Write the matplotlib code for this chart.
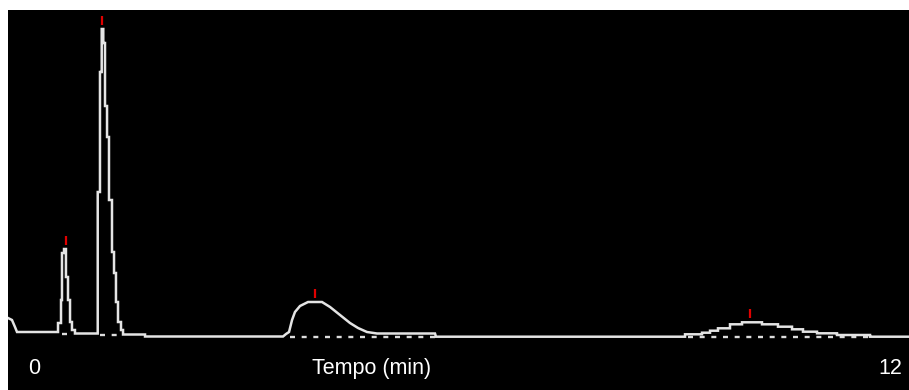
import matplotlib
matplotlib.use("Agg")
import matplotlib.pyplot as plt

plt.rcParams["font.family"] = ["Liberation Sans", "DejaVu Sans"]
plt.rcParams["lines.scale_dashes"] = False

# Detector trace: time (min) and signal (mAU above baseline)
trace_time = [
    0.000, 0.053, 0.093, 0.120, 0.666, 0.666, 0.706, 0.706, 0.719, 0.719,
    0.746, 0.746, 0.772, 0.772, 0.799, 0.799, 0.826, 0.826, 0.852, 0.852,
    0.892, 0.892, 1.195, 1.195, 1.225, 1.225, 1.248, 1.248, 1.269, 1.269,
    1.292, 1.292, 1.319, 1.319, 1.345, 1.345, 1.385, 1.385, 1.412, 1.412,
    1.438, 1.438, 1.465, 1.465, 1.505, 1.505, 1.532, 1.532, 1.825, 1.825,
    3.663, 3.703, 3.743, 3.783, 3.822, 3.889, 3.996, 4.182, 4.289, 4.422,
    4.555, 4.662, 4.781, 4.915, 5.687, 5.700, 9.017, 9.017, 9.243, 9.243,
    9.350, 9.350, 9.456, 9.456, 9.616, 9.616, 9.776, 9.776, 10.042, 10.042,
    10.255, 10.255, 10.442, 10.442, 10.588, 10.588, 10.775, 10.775, 11.041,
    11.041, 11.481, 11.481, 12.000,
]
trace_signal = [
    19, 17, 10, 5, 5, 14, 14, 37, 37, 84,
    84, 88, 88, 60, 60, 37, 37, 15, 15, 7,
    7, 3.5, 3.5, 145, 145, 265, 265, 308, 308, 294,
    294, 231, 231, 200, 200, 137, 137, 85, 85, 64,
    64, 35, 35, 15, 15, 7, 7, 2.5, 2.5, 0.5,
    0.5, 3, 5, 17, 25, 31, 35, 35, 30, 22,
    14, 9, 5, 3.5, 3.5, 0.3, 0.3, 2.7, 2.7, 4.3,
    4.3, 6.3, 6.3, 8.7, 8.7, 12.7, 12.7, 14.7, 14.7, 12.7,
    12.7, 10.3, 10.3, 7.7, 7.7, 5.3, 5.3, 3.7, 3.7,
    2.0, 2.0, 0.3, 0.3,
]

# Integrated peaks: apex time, apex height, baseline start/end and level
peak_time = [0.766, 1.252, 4.089, 9.883]
peak_height = [88, 308, 35, 14.7]
base_start = [0.719, 1.225, 3.756, 9.057]
base_end = [0.866, 1.492, 5.687, 11.481]
base_level = [3.5, 2.0, 0.3, 0.0]

x_min, x_max = 0, 12
x_label = "Tempo (min)"

fig = plt.figure(figsize=(9.09, 3.90), dpi=100, facecolor="white")
ax = fig.add_axes([8 / 909, 0, 901 / 909, 380 / 390])
ax.set_facecolor("black")
ax.set_xlim(x_min, x_max)
ax.set_ylim(-53, 327)
ax.set_axis_off()
ax.add_patch(plt.Rectangle((0, 0), 1, 1, transform=ax.transAxes,
                           facecolor="black", edgecolor="none", zorder=0))

# integration baselines
for x0, x1, lv in zip(base_start, base_end, base_level):
    ax.plot([x0, x1], [lv, lv], color="#dcdcdc", lw=1.7,
            dashes=(3.6, 4.8), solid_capstyle="butt", zorder=2)

ax.plot(trace_time, trace_signal, color="#e4e4e4", lw=1.8, zorder=3,
        solid_joinstyle="miter")

# apex markers
for t, h in zip(peak_time, peak_height):
    ax.plot([t, t], [h + 4, h + 13], color="#e00000", lw=1.6,
            solid_capstyle="butt", zorder=4)

# axis annotations
ax.text(0.029, 16 / 380, str(x_min), transform=ax.transAxes, color="white",
        fontsize=15.5, ha="center", va="baseline")
ax.text(0.404, 16 / 380, x_label, transform=ax.transAxes, color="white",
        fontsize=15.5, ha="center", va="baseline")
ax.text(0.979, 16 / 380, str(x_max), transform=ax.transAxes, color="white",
        fontsize=15.5, ha="center", va="baseline")

fig.savefig("out.png", dpi=100, facecolor="white")
